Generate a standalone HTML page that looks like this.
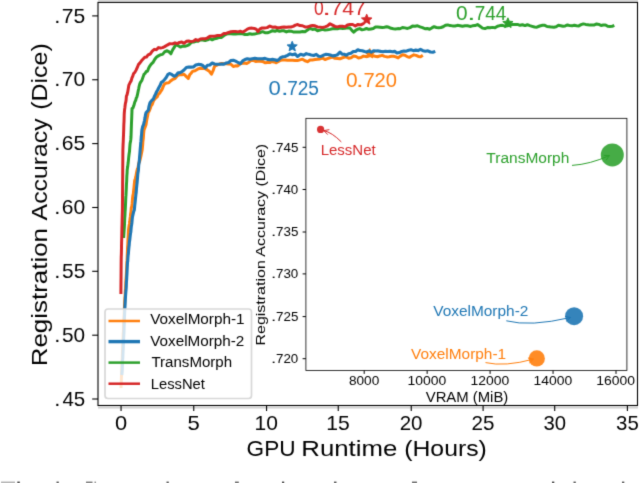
<!DOCTYPE html>
<html><head><meta charset="utf-8"><style>
html,body{margin:0;padding:0;background:#fff;overflow:hidden}
svg{display:block}
#w{width:640px;height:483px}
text{font-family:"Liberation Sans", sans-serif}
text.cap{font-family:"Liberation Serif", serif}
</style></head><body>
<div id="w">
<svg width="640" height="483" viewBox="0 0 640 483">
<defs><filter id="bl" x="0" y="0" width="640" height="483" filterUnits="userSpaceOnUse" color-interpolation-filters="sRGB"><feConvolveMatrix order="3" kernelMatrix="1 6 1 6 36 6 1 6 1" divisor="64" edgeMode="duplicate"/></filter></defs>
<g filter="url(#bl)">
<rect width="640" height="483" fill="#fff"/>
<defs><clipPath id="ax"><rect x="98" y="2" width="539.3" height="403.5"/></clipPath></defs>
<g clip-path="url(#ax)" fill="none" stroke-linejoin="round" stroke-linecap="butt">
<path d="M369.80,48.60 L371.18,51.91 L374.75,52.19 L372.03,54.52 L372.86,58.01 L369.80,56.14 L366.74,58.01 L367.57,54.52 L364.85,52.19 L368.42,51.91 Z" fill="#ff7f0e" stroke="#ff7f0e" stroke-width="1" stroke-linejoin="miter"/>
<path d="M121.00,388.00 L121.10,384.93 L121.20,383.22 L121.30,382.04 L121.40,378.54 L121.50,375.65 L121.60,373.65 L121.70,371.57 L121.80,369.00 L121.89,367.61 L121.98,364.32 L122.08,360.64 L122.17,359.82 L122.26,358.36 L122.35,355.99 L122.45,352.94 L122.54,350.10 L122.63,349.24 L122.72,346.60 L122.82,344.79 L122.91,343.84 L123.00,340.00 L123.10,337.65 L123.20,333.76 L123.30,332.51 L123.40,332.02 L123.50,329.50 L123.60,325.90 L123.70,323.76 L123.80,321.18 L123.90,318.58 L124.00,317.13 L124.10,315.43 L124.20,312.82 L124.30,310.09 L124.40,307.84 L124.50,306.06 L124.60,303.97 L124.70,300.91 L124.80,300.00 L124.93,297.51 L125.07,296.30 L125.20,293.71 L125.33,290.78 L125.47,289.23 L125.60,288.29 L125.73,284.41 L125.87,281.18 L126.00,280.00 L126.11,277.83 L126.23,276.28 L126.34,274.41 L126.45,271.59 L126.57,269.12 L126.68,267.31 L126.80,264.04 L126.91,261.61 L127.02,260.44 L127.14,258.66 L127.25,255.67 L127.36,252.91 L127.48,249.74 L127.59,246.81 L127.70,245.99 L127.82,244.04 L127.93,240.58 L128.05,238.56 L128.16,237.30 L128.27,235.26 L128.39,232.37 L128.50,230.00 L128.81,227.40 L129.12,225.40 L129.44,223.80 L129.75,221.57 L130.06,218.59 L130.38,216.28 L130.69,213.34 L131.00,212.00 L131.27,207.95 L131.54,206.95 L131.81,206.45 L132.09,203.95 L132.36,200.55 L132.63,197.46 L132.90,195.38 L133.17,194.63 L133.44,192.86 L133.71,189.73 L133.99,187.62 L134.26,184.75 L134.53,181.80 L134.80,180.00 L135.33,178.72 L135.86,176.68 L136.39,173.58 L136.91,170.83 L137.44,168.83 L137.97,167.97 L138.50,164.78 L139.03,162.29 L139.56,161.67 L140.09,159.70 L140.61,157.38 L141.14,155.07 L141.67,152.49 L142.20,149.70 L142.42,147.39 L142.65,144.75 L142.88,141.33 L143.10,139.71 L143.32,138.22 L143.55,134.49 L143.78,131.90 L144.00,130.00 L145.00,127.38 L146.00,124.80 L146.42,122.10 L146.84,119.44 L147.26,117.38 L147.68,115.51 L148.10,112.80 L149.12,111.17 L150.15,108.78 L151.17,105.60 L152.20,104.50 L153.44,101.01 L154.68,99.21 L155.92,97.81 L157.16,97.03 L158.40,94.10 L159.66,93.29 L160.92,91.11 L162.18,89.09 L163.44,86.00 L164.70,83.80 L166.77,82.95 L168.83,82.71 L170.90,80.70 L172.95,79.19 L175.00,78.60 L177.25,75.79 L179.50,74.56 L181.75,74.86 L184.00,74.20 L186.15,76.31 L188.30,78.40 L189.70,74.85 L191.10,73.23 L192.50,71.40 L195.04,70.78 L197.58,69.17 L200.12,68.26 L202.66,68.57 L205.20,68.60 L207.30,69.89 L209.40,71.27 L211.50,74.20 L212.38,72.07 L213.25,70.32 L214.12,67.48 L215.00,65.80 L217.25,64.99 L219.50,64.01 L221.75,63.42 L224.00,63.75 L226.25,63.70 L228.60,63.89 L230.95,64.23 L233.30,66.50 L235.54,65.82 L237.78,65.88 L240.02,63.87 L242.26,63.35 L244.50,63.00 L246.71,63.55 L248.93,62.19 L251.14,60.42 L253.36,60.41 L255.57,61.49 L257.79,61.27 L260.00,61.25 L262.50,61.41 L265.00,62.81 L267.50,62.50 L269.69,62.61 L271.88,61.43 L274.06,61.94 L276.25,62.72 L278.44,61.53 L280.62,60.13 L282.81,60.07 L285.00,60.00 L287.50,60.20 L290.00,60.18 L292.50,60.16 L295.00,60.39 L297.50,60.60 L300.00,59.89 L302.50,59.14 L305.00,60.75 L307.50,61.72 L310.00,60.00 L312.50,59.97 L315.00,59.55 L317.50,59.18 L320.00,58.95 L322.50,58.10 L325.00,59.49 L327.50,58.59 L330.00,57.75 L332.50,57.07 L335.00,58.35 L337.50,58.50 L340.00,58.75 L343.12,57.55 L346.25,56.90 L348.70,58.27 L351.15,57.68 L353.60,56.07 L356.05,56.52 L358.50,57.93 L360.95,57.50 L363.40,56.10 L365.75,56.58 L368.10,56.05 L370.45,55.82 L372.80,55.57 L375.15,56.27 L377.50,56.78 L379.85,55.95 L382.20,55.41 L384.55,56.38 L386.90,56.90 L389.14,56.73 L391.39,56.31 L393.63,56.27 L395.88,56.87 L398.12,57.87 L400.36,56.14 L402.61,54.72 L404.85,55.20 L407.09,56.60 L409.34,57.36 L411.58,56.03 L413.82,54.85 L416.07,55.39 L418.31,56.47 L420.56,56.86 L422.80,55.30" stroke="#ff7f0e" stroke-width="3.0"/>
<path d="M121.80,375.00 L121.97,373.17 L122.13,371.32 L122.30,366.90 L122.41,364.63 L122.52,360.72 L122.62,359.92 L122.73,358.89 L122.84,356.30 L122.95,353.21 L123.06,350.81 L123.17,349.10 L123.27,346.78 L123.38,343.66 L123.49,341.09 L123.60,339.60 L123.69,337.05 L123.77,335.39 L123.86,334.32 L123.94,332.54 L124.03,329.47 L124.11,326.29 L124.20,323.55 L124.29,320.56 L124.37,317.89 L124.46,316.49 L124.54,314.83 L124.63,312.46 L124.71,311.33 L124.80,308.60 L124.95,307.07 L125.10,304.11 L125.25,301.24 L125.40,297.89 L125.55,295.74 L125.70,293.63 L125.85,291.65 L126.00,290.00 L126.12,288.63 L126.25,286.61 L126.38,282.73 L126.50,280.81 L126.62,279.64 L126.75,277.01 L126.88,274.88 L127.00,272.61 L127.12,270.05 L127.25,266.94 L127.38,264.97 L127.50,262.00 L127.71,261.57 L127.92,257.79 L128.13,255.17 L128.34,254.00 L128.56,251.22 L128.77,248.65 L128.98,246.48 L129.19,245.01 L129.40,242.00 L129.67,240.56 L129.95,238.14 L130.22,235.62 L130.49,233.47 L130.76,232.26 L131.04,229.21 L131.31,226.34 L131.58,224.96 L131.85,223.01 L132.13,219.95 L132.40,217.30 L133.03,214.31 L133.67,211.57 L134.30,210.00 L134.53,207.74 L134.76,205.13 L134.99,203.22 L135.22,201.10 L135.45,198.80 L135.68,196.57 L135.92,194.35 L136.15,192.80 L136.38,189.63 L136.61,186.96 L136.84,184.94 L137.07,182.76 L137.30,180.00 L137.53,177.51 L137.75,174.49 L137.98,172.57 L138.21,171.65 L138.44,169.56 L138.66,165.63 L138.89,163.70 L139.12,162.64 L139.35,160.50 L139.57,157.19 L139.80,154.70 L139.99,152.33 L140.18,149.84 L140.37,147.42 L140.56,145.58 L140.75,142.52 L140.95,141.42 L141.14,138.95 L141.33,136.03 L141.52,135.21 L141.71,132.43 L141.90,130.00 L142.70,126.37 L143.50,124.80 L144.00,122.57 L144.50,120.58 L145.00,117.87 L145.50,114.72 L146.00,112.80 L148.40,110.00 L149.00,106.32 L149.60,104.05 L150.20,102.40 L151.80,100.40 L153.40,99.00 L154.40,96.24 L155.40,94.47 L156.40,92.10 L157.64,89.98 L158.88,87.47 L160.12,85.39 L161.36,82.41 L162.60,81.70 L164.40,79.78 L166.20,77.54 L168.00,74.30 L169.80,73.50 L172.00,74.66 L174.20,76.30 L176.16,75.19 L178.12,72.69 L180.08,72.58 L182.04,71.53 L184.00,70.00 L186.35,67.52 L188.70,66.96 L191.05,67.12 L193.40,66.95 L195.75,65.06 L198.10,64.40 L200.47,64.52 L202.83,65.53 L205.20,67.90 L207.53,65.28 L209.87,65.04 L212.20,63.00 L214.54,63.96 L216.88,64.22 L219.22,64.25 L221.57,64.17 L223.91,64.08 L226.25,63.00 L228.60,62.41 L230.95,60.56 L233.30,60.20 L235.63,61.15 L237.97,62.49 L240.30,63.70 L242.63,60.94 L244.97,59.54 L247.30,58.75 L249.84,59.36 L252.38,58.75 L254.92,58.20 L257.46,58.71 L260.00,58.75 L262.50,58.70 L265.00,58.36 L267.50,59.34 L270.00,59.69 L272.50,59.40 L274.70,59.69 L276.90,60.50 L278.92,59.55 L280.95,57.43 L282.98,56.69 L285.00,56.50 L287.50,55.36 L290.00,53.84 L292.50,54.80 L295.00,53.92 L297.50,56.50 L300.62,54.32 L303.75,55.20 L306.25,53.63 L308.75,54.37 L311.25,54.99 L313.75,55.49 L316.25,54.40 L318.59,56.29 L320.94,56.46 L323.28,55.28 L325.62,54.39 L327.97,54.57 L330.31,55.00 L332.66,55.86 L335.00,55.60 L337.50,54.71 L340.00,52.20 L342.08,54.20 L344.17,54.20 L346.25,55.30 L348.59,53.72 L350.93,53.25 L353.26,51.48 L355.60,51.40 L357.84,49.69 L360.07,50.57 L362.31,50.83 L364.54,51.54 L366.78,51.90 L369.01,50.83 L371.25,52.20 L373.60,50.75 L375.94,50.93 L378.28,50.91 L380.63,51.38 L382.98,51.77 L385.32,51.29 L387.66,51.55 L390.01,51.28 L392.36,51.71 L394.70,51.40 L397.03,52.97 L399.36,52.55 L401.69,51.47 L404.02,50.98 L406.35,51.18 L408.68,50.22 L411.01,49.83 L413.34,50.65 L415.67,50.12 L418.00,50.60 L420.47,49.34 L422.94,50.63 L425.41,51.26 L427.89,50.84 L430.36,52.01 L432.83,52.30 L435.30,51.40" stroke="#1f77b4" stroke-width="3.1"/>
<path d="M292.20,41.30 L293.60,44.67 L297.24,44.96 L294.47,47.34 L295.32,50.89 L292.20,48.98 L289.08,50.89 L289.93,47.34 L287.16,44.96 L290.80,44.67 Z" fill="#1f77b4" stroke="#1f77b4" stroke-width="1" stroke-linejoin="miter"/>
<path d="M123.60,238.00 L123.77,235.05 L123.95,232.63 L124.12,230.35 L124.30,228.00 L124.41,225.72 L124.52,223.93 L124.63,220.78 L124.75,217.51 L124.86,216.59 L124.97,214.78 L125.08,211.52 L125.19,210.54 L125.30,208.72 L125.42,206.21 L125.53,203.99 L125.64,201.43 L125.75,198.64 L125.86,196.40 L125.97,195.39 L126.08,192.97 L126.20,190.53 L126.31,188.55 L126.42,185.17 L126.53,183.08 L126.64,181.75 L126.75,178.74 L126.87,175.56 L126.98,174.29 L127.09,172.81 L127.20,170.00 L127.45,168.13 L127.71,166.62 L127.96,164.41 L128.21,162.28 L128.47,159.54 L128.72,157.13 L128.97,155.02 L129.23,153.05 L129.48,151.58 L129.73,147.96 L129.99,144.50 L130.24,142.50 L130.49,141.71 L130.75,139.88 L131.00,137.00 L131.08,134.74 L131.17,132.14 L131.25,129.57 L131.33,127.35 L131.42,124.72 L131.50,122.69 L131.58,120.72 L131.67,118.90 L131.75,116.70 L131.83,114.37 L131.92,112.30 L132.00,108.60 L132.93,107.97 L133.85,105.58 L134.77,102.09 L135.70,100.30 L136.29,97.98 L136.87,96.99 L137.46,94.71 L138.04,91.68 L138.63,89.00 L139.21,86.03 L139.80,83.80 L140.84,81.81 L141.88,80.37 L142.92,77.38 L143.96,74.45 L145.00,73.50 L146.24,71.48 L147.48,71.17 L148.72,67.99 L149.96,65.79 L151.20,64.10 L153.00,62.41 L154.80,59.25 L156.60,57.01 L158.40,55.90 L160.47,54.71 L162.55,54.39 L164.62,51.86 L166.70,50.70 L168.80,51.67 L170.90,53.80 L172.07,50.95 L173.25,48.85 L174.43,47.06 L175.60,44.70 L177.97,45.53 L180.33,47.10 L182.70,46.10 L184.90,46.23 L187.10,45.56 L189.30,44.52 L191.50,42.26 L193.70,42.05 L195.90,41.27 L198.10,41.20 L200.45,39.66 L202.80,40.06 L205.15,40.53 L207.50,39.87 L209.85,38.67 L212.20,39.80 L214.54,38.70 L216.88,38.21 L219.22,37.41 L221.57,37.45 L223.91,35.52 L226.25,34.10 L228.59,33.71 L230.93,33.83 L233.28,34.03 L235.62,34.04 L237.96,33.78 L240.30,33.40 L242.65,33.82 L245.00,34.59 L247.35,34.51 L249.70,33.76 L252.05,34.24 L254.40,34.10 L257.20,33.33 L260.00,32.70 L262.50,31.67 L265.00,32.69 L267.50,32.82 L270.00,31.85 L272.50,30.74 L275.00,31.25 L277.27,30.33 L279.55,31.36 L281.82,30.75 L284.09,30.87 L286.36,31.97 L288.64,31.08 L290.91,31.13 L293.18,31.88 L295.45,32.03 L297.73,31.90 L300.00,31.90 L302.50,31.50 L305.00,31.66 L307.50,29.99 L310.00,28.34 L312.50,29.40 L315.00,29.07 L317.50,30.73 L320.00,30.12 L322.50,29.38 L325.00,30.00 L327.50,29.83 L330.00,29.35 L332.50,28.71 L335.00,28.45 L337.50,28.75 L340.00,28.08 L342.50,28.43 L345.00,28.18 L347.50,27.68 L350.00,28.10 L351.88,30.40 L353.75,32.20 L355.62,30.41 L357.50,29.30 L359.75,28.61 L362.00,29.82 L364.25,29.38 L366.50,28.51 L368.75,29.30 L371.00,28.92 L373.25,28.53 L375.50,27.06 L377.75,26.98 L380.00,27.20 L382.22,27.60 L384.44,27.20 L386.67,26.74 L388.89,27.30 L391.11,28.35 L393.33,28.70 L395.56,28.91 L397.78,28.62 L400.00,28.75 L402.50,27.49 L405.00,27.89 L407.50,28.41 L410.00,27.65 L412.50,26.12 L415.00,26.25 L417.50,25.76 L420.00,26.91 L422.50,27.65 L425.00,28.75 L427.27,28.46 L429.55,29.27 L431.82,27.93 L434.09,26.69 L436.36,27.46 L438.64,27.80 L440.91,27.51 L443.18,26.72 L445.45,25.28 L447.73,24.90 L450.00,25.60 L452.50,25.88 L455.00,25.97 L457.50,25.34 L460.00,25.72 L462.50,26.25 L465.00,25.84 L467.50,25.70 L470.00,26.42 L472.50,25.86 L475.00,25.60 L477.50,24.55 L480.00,26.27 L482.50,28.14 L485.00,28.59 L487.50,27.50 L490.00,27.84 L492.50,27.39 L495.00,27.85 L497.50,26.23 L500.00,25.60 L502.50,25.32 L505.00,26.15 L507.50,25.79 L510.00,25.03 L512.50,24.50 L515.00,24.44 L517.50,24.40 L520.00,25.30 L522.50,24.72 L525.00,25.60 L527.38,24.72 L529.76,25.66 L532.14,26.35 L534.52,27.05 L536.90,27.20 L539.70,26.00 L542.50,25.30 L544.78,25.32 L547.06,26.53 L549.33,26.67 L551.61,27.12 L553.89,27.18 L556.17,26.74 L558.44,25.34 L560.72,25.73 L563.00,26.25 L565.26,25.92 L567.52,24.98 L569.78,25.63 L572.04,25.83 L574.30,25.22 L576.56,25.74 L578.82,25.89 L581.08,24.69 L583.34,23.89 L585.60,24.40 L587.81,24.66 L590.02,25.11 L592.22,25.05 L594.43,24.91 L596.64,23.98 L598.85,24.36 L601.05,25.48 L603.26,24.93 L605.47,24.96 L607.68,26.31 L609.88,26.40 L612.09,26.30 L614.30,25.30" stroke="#2ca02c" stroke-width="3.0"/>
<path d="M507.90,17.80 L509.33,21.23 L513.04,21.53 L510.21,23.95 L511.07,27.57 L507.90,25.63 L504.73,27.57 L505.59,23.95 L502.76,21.53 L506.47,21.23 Z" fill="#2ca02c" stroke="#2ca02c" stroke-width="1" stroke-linejoin="miter"/>
<path d="M120.90,294.00 L120.92,291.28 L120.94,288.34 L120.96,286.35 L120.98,284.17 L121.00,281.34 L121.02,279.50 L121.04,278.68 L121.06,277.09 L121.08,274.56 L121.10,271.31 L121.12,268.66 L121.14,266.48 L121.16,263.60 L121.18,261.04 L121.20,260.00 L121.25,256.51 L121.31,255.58 L121.36,254.29 L121.42,251.76 L121.47,249.38 L121.52,246.00 L121.58,242.84 L121.63,241.25 L121.68,239.63 L121.74,237.69 L121.79,235.61 L121.85,231.97 L121.90,229.70 L121.96,226.71 L122.03,225.25 L122.09,222.61 L122.15,219.31 L122.21,216.79 L122.28,214.18 L122.34,212.50 L122.40,210.00 L122.42,209.13 L122.44,206.24 L122.46,203.04 L122.47,201.42 L122.49,199.65 L122.51,197.37 L122.53,195.61 L122.55,192.74 L122.57,189.77 L122.59,187.69 L122.60,185.48 L122.62,182.51 L122.64,180.06 L122.66,178.93 L122.68,176.25 L122.70,172.72 L122.71,171.48 L122.73,169.64 L122.75,167.25 L122.77,165.34 L122.79,162.78 L122.81,161.44 L122.83,158.96 L122.84,155.73 L122.86,153.51 L122.88,151.65 L122.90,149.70 L123.00,147.08 L123.10,144.15 L123.20,142.49 L123.30,139.96 L123.40,137.18 L123.50,135.71 L123.60,132.47 L123.70,130.00 L123.79,126.12 L123.87,123.88 L123.96,122.62 L124.04,120.82 L124.13,117.46 L124.21,114.52 L124.30,112.80 L124.60,109.59 L124.90,107.44 L125.20,104.84 L125.50,102.87 L125.80,101.95 L126.10,100.02 L126.40,96.20 L127.02,94.89 L127.64,92.42 L128.26,88.72 L128.88,85.10 L129.50,83.80 L130.32,82.17 L131.14,80.94 L131.96,77.94 L132.78,76.16 L133.60,73.50 L134.84,72.38 L136.08,70.09 L137.32,67.45 L138.56,64.30 L139.80,63.10 L141.46,60.82 L143.12,59.07 L144.78,57.30 L146.44,57.04 L148.10,54.80 L150.18,54.02 L152.25,51.13 L154.32,49.37 L156.40,49.70 L158.47,47.59 L160.55,48.07 L162.62,47.62 L164.70,46.60 L167.27,45.06 L169.85,43.66 L172.43,43.88 L175.00,42.80 L177.25,43.61 L179.50,42.42 L181.75,41.93 L184.00,43.30 L186.35,41.33 L188.70,41.05 L191.05,41.64 L193.40,41.14 L195.75,39.59 L198.10,40.50 L200.45,39.00 L202.80,38.64 L205.15,38.79 L207.50,37.87 L209.85,36.37 L212.20,36.25 L214.54,36.29 L216.88,35.61 L219.22,35.50 L221.57,35.14 L223.91,33.40 L226.25,33.40 L228.59,32.46 L230.93,31.76 L233.28,31.43 L235.62,31.44 L237.96,31.88 L240.30,31.30 L242.65,32.06 L245.00,30.93 L247.35,29.10 L249.70,28.22 L252.05,28.11 L254.40,28.50 L256.20,29.07 L258.00,31.50 L260.00,28.80 L262.00,28.00 L264.60,27.97 L267.20,27.62 L269.80,26.03 L272.40,27.16 L275.00,27.00 L277.27,27.71 L279.55,27.69 L281.82,27.29 L284.09,27.01 L286.36,27.31 L288.64,26.99 L290.91,27.02 L293.18,26.39 L295.45,25.15 L297.73,24.54 L300.00,25.60 L302.50,25.74 L305.00,26.92 L307.50,27.00 L310.00,26.04 L312.50,25.60 L315.00,25.85 L317.50,26.90 L320.00,27.13 L322.50,27.42 L325.00,26.90 L327.50,25.91 L330.00,23.75 L332.50,25.11 L335.00,26.43 L337.50,26.90 L340.00,26.32 L342.50,26.22 L345.00,26.89 L347.50,24.95 L350.00,24.40 L352.67,24.48 L355.33,25.99 L358.00,24.40 L361.00,24.87 L364.00,23.20" stroke="#d62728" stroke-width="3.0"/>
<path d="M366.70,14.20 L368.15,17.70 L371.93,18.00 L369.05,20.46 L369.93,24.15 L366.70,22.18 L363.47,24.15 L364.35,20.46 L361.47,18.00 L365.25,17.70 Z" fill="#d62728" stroke="#d62728" stroke-width="1" stroke-linejoin="miter"/>
</g>
<defs><clipPath id="topclip"><rect x="0" y="2" width="640" height="481"/></clipPath></defs>
<g clip-path="url(#topclip)">
<text x="314.00" y="15.00" font-size="20.5" fill="#d62728" textLength="9.73" lengthAdjust="spacingAndGlyphs">0</text>
<text x="322.16" y="15.00" font-size="20.5" fill="#d62728" textLength="8.77" lengthAdjust="spacingAndGlyphs">.</text>
<text x="330.54" y="15.00" font-size="20.5" fill="#d62728" textLength="35.40" lengthAdjust="spacingAndGlyphs">747</text>
</g>
<text x="456.07" y="19.75" font-size="20.5" fill="#2ca02c" textLength="11.59" lengthAdjust="spacingAndGlyphs">0</text>
<text x="467.35" y="19.75" font-size="20.5" fill="#2ca02c" textLength="8.19" lengthAdjust="spacingAndGlyphs">.</text>
<text x="474.65" y="19.75" font-size="20.5" fill="#2ca02c" textLength="31.58" lengthAdjust="spacingAndGlyphs">744</text>
<text x="268.52" y="94.60" font-size="20.5" fill="#1f77b4" textLength="12.28" lengthAdjust="spacingAndGlyphs">0</text>
<text x="281.14" y="94.60" font-size="20.5" fill="#1f77b4" textLength="7.60" lengthAdjust="spacingAndGlyphs">.</text>
<text x="287.15" y="94.60" font-size="20.5" fill="#1f77b4" textLength="31.78" lengthAdjust="spacingAndGlyphs">725</text>
<text x="346.07" y="87.10" font-size="20.5" fill="#ff7f0e" textLength="11.59" lengthAdjust="spacingAndGlyphs">0</text>
<text x="356.14" y="87.10" font-size="20.5" fill="#ff7f0e" textLength="7.60" lengthAdjust="spacingAndGlyphs">.</text>
<text x="363.39" y="87.10" font-size="20.5" fill="#ff7f0e" textLength="33.63" lengthAdjust="spacingAndGlyphs">720</text>
<line x1="98" y1="407.6" x2="638" y2="407.6" stroke="#d0d0d0" stroke-width="1.6"/>
<line x1="98" y1="0.8" x2="638" y2="0.8" stroke="#d8d8d8" stroke-width="1.6"/>
<rect x="98" y="2.4" width="539.5" height="403.1" fill="none" stroke="#000" stroke-width="1.1"/>
<line x1="92.2" y1="15.9" x2="98" y2="15.9" stroke="#000" stroke-width="1.1"/>
<text x="54.21" y="22.60" font-size="21" fill="#000" textLength="6.14" lengthAdjust="spacingAndGlyphs">.</text>
<text x="61.85" y="22.60" font-size="21" fill="#000" textLength="23.45" lengthAdjust="spacingAndGlyphs">75</text>
<line x1="92.2" y1="79.75" x2="98" y2="79.75" stroke="#000" stroke-width="1.1"/>
<text x="54.21" y="86.45" font-size="21" fill="#000" textLength="6.14" lengthAdjust="spacingAndGlyphs">.</text>
<text x="61.85" y="86.45" font-size="21" fill="#000" textLength="23.33" lengthAdjust="spacingAndGlyphs">70</text>
<line x1="92.2" y1="143.6" x2="98" y2="143.6" stroke="#000" stroke-width="1.1"/>
<text x="54.21" y="150.30" font-size="21" fill="#000" textLength="6.14" lengthAdjust="spacingAndGlyphs">.</text>
<text x="61.85" y="150.30" font-size="21" fill="#000" textLength="23.45" lengthAdjust="spacingAndGlyphs">65</text>
<line x1="92.2" y1="207.5" x2="98" y2="207.5" stroke="#000" stroke-width="1.1"/>
<text x="54.21" y="214.20" font-size="21" fill="#000" textLength="6.14" lengthAdjust="spacingAndGlyphs">.</text>
<text x="61.85" y="214.20" font-size="21" fill="#000" textLength="23.33" lengthAdjust="spacingAndGlyphs">60</text>
<line x1="92.2" y1="271.3" x2="98" y2="271.3" stroke="#000" stroke-width="1.1"/>
<text x="54.21" y="278.00" font-size="21" fill="#000" textLength="6.14" lengthAdjust="spacingAndGlyphs">.</text>
<text x="62.07" y="278.00" font-size="21" fill="#000" textLength="23.22" lengthAdjust="spacingAndGlyphs">55</text>
<line x1="92.2" y1="335.2" x2="98" y2="335.2" stroke="#000" stroke-width="1.1"/>
<text x="54.21" y="341.90" font-size="21" fill="#000" textLength="6.14" lengthAdjust="spacingAndGlyphs">.</text>
<text x="62.07" y="341.90" font-size="21" fill="#000" textLength="23.11" lengthAdjust="spacingAndGlyphs">50</text>
<line x1="92.2" y1="399.0" x2="98" y2="399.0" stroke="#000" stroke-width="1.1"/>
<text x="54.21" y="405.70" font-size="21" fill="#000" textLength="6.14" lengthAdjust="spacingAndGlyphs">.</text>
<text x="62.49" y="405.70" font-size="21" fill="#000" textLength="22.78" lengthAdjust="spacingAndGlyphs">45</text>
<line x1="121.06" y1="405.5" x2="121.06" y2="411" stroke="#000" stroke-width="1.1"/>
<text x="114.94" y="429.90" font-size="21" fill="#000" textLength="12.17" lengthAdjust="spacingAndGlyphs">0</text>
<line x1="193.75" y1="405.5" x2="193.75" y2="411" stroke="#000" stroke-width="1.1"/>
<text x="187.62" y="429.90" font-size="21" fill="#000" textLength="12.29" lengthAdjust="spacingAndGlyphs">5</text>
<line x1="266.56" y1="405.5" x2="266.56" y2="411" stroke="#000" stroke-width="1.1"/>
<text x="254.49" y="429.90" font-size="21" fill="#000" textLength="23.36" lengthAdjust="spacingAndGlyphs">10</text>
<line x1="338.25" y1="405.5" x2="338.25" y2="411" stroke="#000" stroke-width="1.1"/>
<text x="326.17" y="429.90" font-size="21" fill="#000" textLength="23.48" lengthAdjust="spacingAndGlyphs">15</text>
<line x1="411.25" y1="405.5" x2="411.25" y2="411" stroke="#000" stroke-width="1.1"/>
<text x="399.73" y="429.90" font-size="21" fill="#000" textLength="22.79" lengthAdjust="spacingAndGlyphs">20</text>
<line x1="483.10" y1="405.5" x2="483.10" y2="411" stroke="#000" stroke-width="1.1"/>
<text x="471.57" y="429.90" font-size="21" fill="#000" textLength="22.90" lengthAdjust="spacingAndGlyphs">25</text>
<line x1="554.70" y1="405.5" x2="554.70" y2="411" stroke="#000" stroke-width="1.1"/>
<text x="543.39" y="429.90" font-size="21" fill="#000" textLength="22.57" lengthAdjust="spacingAndGlyphs">30</text>
<line x1="627.40" y1="405.5" x2="627.40" y2="411" stroke="#000" stroke-width="1.1"/>
<text x="616.08" y="429.90" font-size="21" fill="#000" textLength="22.68" lengthAdjust="spacingAndGlyphs">35</text>
<text x="246.57" y="456.00" font-size="22" fill="#000" textLength="48.97" lengthAdjust="spacingAndGlyphs">GPU</text>
<text x="301.34" y="456.00" font-size="22" fill="#000" textLength="95.99" lengthAdjust="spacingAndGlyphs">Runtime</text>
<text x="404.21" y="456.00" font-size="22" fill="#000" textLength="82.67" lengthAdjust="spacingAndGlyphs">(Hours)</text>
<text x="-2.07" y="0" font-size="22" fill="#000" textLength="138.23" lengthAdjust="spacingAndGlyphs" transform="translate(46.70,364.20) rotate(-90)">Registration</text>
<text x="-0.00" y="0" font-size="22" fill="#000" textLength="101.96" lengthAdjust="spacingAndGlyphs" transform="translate(46.70,220.40) rotate(-90)">Accuracy</text>
<text x="-1.50" y="0" font-size="22" fill="#000" textLength="66.64" lengthAdjust="spacingAndGlyphs" transform="translate(46.70,108.30) rotate(-90)">(Dice)</text>
<rect x="105" y="309" width="146.5" height="89.5" rx="3" ry="3" fill="#fff" fill-opacity="0.8" stroke="#d8d8d8" stroke-width="1.7"/>
<line x1="108.5" y1="321.0" x2="140" y2="321.0" stroke="#ff7f0e" stroke-width="2.5"/>
<line x1="108.5" y1="341.6" x2="140" y2="341.6" stroke="#1f77b4" stroke-width="3.4"/>
<line x1="108.5" y1="362.6" x2="140" y2="362.6" stroke="#2ca02c" stroke-width="2.5"/>
<line x1="108.5" y1="383.7" x2="140" y2="383.7" stroke="#d62728" stroke-width="2.5"/>
<text x="150.22" y="324.40" font-size="14" fill="#000" textLength="94.37" lengthAdjust="spacingAndGlyphs">VoxelMorph-1</text>
<text x="150.22" y="345.50" font-size="14" fill="#000" textLength="94.14" lengthAdjust="spacingAndGlyphs">VoxelMorph-2</text>
<text x="151.40" y="367.20" font-size="14" fill="#000" textLength="80.76" lengthAdjust="spacingAndGlyphs">TransMorph</text>
<text x="150.82" y="388.70" font-size="14" fill="#000" textLength="54.11" lengthAdjust="spacingAndGlyphs">LessNet</text>
<rect x="305.9" y="118.35" width="321" height="252.15" fill="#fff" stroke="#111" stroke-width="0.85"/>
<line x1="302.6" y1="147.3" x2="305.9" y2="147.3" stroke="#000" stroke-width="1"/>
<text x="271.09" y="151.60" font-size="12.8" fill="#000" textLength="5.26" lengthAdjust="spacingAndGlyphs">.</text>
<text x="276.03" y="151.60" font-size="12.8" fill="#000" textLength="22.35" lengthAdjust="spacingAndGlyphs">745</text>
<line x1="302.6" y1="189.5" x2="305.9" y2="189.5" stroke="#000" stroke-width="1"/>
<text x="271.09" y="193.80" font-size="12.8" fill="#000" textLength="5.26" lengthAdjust="spacingAndGlyphs">.</text>
<text x="276.03" y="193.80" font-size="12.8" fill="#000" textLength="22.28" lengthAdjust="spacingAndGlyphs">740</text>
<line x1="302.6" y1="232.0" x2="305.9" y2="232.0" stroke="#000" stroke-width="1"/>
<text x="271.09" y="236.30" font-size="12.8" fill="#000" textLength="5.26" lengthAdjust="spacingAndGlyphs">.</text>
<text x="276.03" y="236.30" font-size="12.8" fill="#000" textLength="22.35" lengthAdjust="spacingAndGlyphs">735</text>
<line x1="302.6" y1="273.9" x2="305.9" y2="273.9" stroke="#000" stroke-width="1"/>
<text x="271.09" y="278.20" font-size="12.8" fill="#000" textLength="5.26" lengthAdjust="spacingAndGlyphs">.</text>
<text x="276.03" y="278.20" font-size="12.8" fill="#000" textLength="22.28" lengthAdjust="spacingAndGlyphs">730</text>
<line x1="302.6" y1="316.6" x2="305.9" y2="316.6" stroke="#000" stroke-width="1"/>
<text x="271.09" y="320.90" font-size="12.8" fill="#000" textLength="5.26" lengthAdjust="spacingAndGlyphs">.</text>
<text x="276.03" y="320.90" font-size="12.8" fill="#000" textLength="22.35" lengthAdjust="spacingAndGlyphs">725</text>
<line x1="302.6" y1="358.7" x2="305.9" y2="358.7" stroke="#000" stroke-width="1"/>
<text x="271.09" y="363.00" font-size="12.8" fill="#000" textLength="5.26" lengthAdjust="spacingAndGlyphs">.</text>
<text x="276.03" y="363.00" font-size="12.8" fill="#000" textLength="22.28" lengthAdjust="spacingAndGlyphs">720</text>
<line x1="364.20" y1="370.5" x2="364.20" y2="373.9" stroke="#000" stroke-width="1"/>
<text x="348.96" y="385.40" font-size="12.6" fill="#000" textLength="30.34" lengthAdjust="spacingAndGlyphs">8000</text>
<line x1="427.15" y1="370.5" x2="427.15" y2="373.9" stroke="#000" stroke-width="1"/>
<text x="407.51" y="385.40" font-size="12.6" fill="#000" textLength="38.74" lengthAdjust="spacingAndGlyphs">10000</text>
<line x1="490.10" y1="370.5" x2="490.10" y2="373.9" stroke="#000" stroke-width="1"/>
<text x="470.46" y="385.40" font-size="12.6" fill="#000" textLength="38.74" lengthAdjust="spacingAndGlyphs">12000</text>
<line x1="553.05" y1="370.5" x2="553.05" y2="373.9" stroke="#000" stroke-width="1"/>
<text x="533.41" y="385.40" font-size="12.6" fill="#000" textLength="38.74" lengthAdjust="spacingAndGlyphs">14000</text>
<line x1="616.00" y1="370.5" x2="616.00" y2="373.9" stroke="#000" stroke-width="1"/>
<text x="596.36" y="385.40" font-size="12.6" fill="#000" textLength="38.74" lengthAdjust="spacingAndGlyphs">16000</text>
<text x="425.73" y="401.60" font-size="14" fill="#000" textLength="82.55" lengthAdjust="spacingAndGlyphs">VRAM (MiB)</text>
<text x="-1.28" y="0" font-size="13.5" fill="#000" textLength="201.75" lengthAdjust="spacingAndGlyphs" transform="translate(264.60,344.30) rotate(-90)">Registration Accuracy (Dice)</text>
<circle cx="574.1" cy="316.2" r="9.0" fill="#1f77b4" fill-opacity="0.9"/>
<circle cx="536.8" cy="358.4" r="8.1" fill="#ff7f0e" fill-opacity="0.9"/>
<circle cx="612.3" cy="154.9" r="11.5" fill="#2ca02c" fill-opacity="0.88"/>
<circle cx="320.6" cy="129.4" r="3.6" fill="#d62728" fill-opacity="0.95"/>
<path d="M341.3,141.9 Q332,132.5 323.8,130.6" fill="none" stroke="#d62728" stroke-width="1"/>
<path d="M329.36,129.66 L323.80,130.60 L327.76,134.61" fill="none" stroke="#d62728" stroke-width="1"/>
<path d="M572,165.4 Q590,164.3 609.5,155.5" fill="none" stroke="#2ca02c" stroke-width="1"/>
<path d="M606.21,160.08 L609.50,155.50 L603.86,155.43" fill="none" stroke="#2ca02c" stroke-width="1"/>
<path d="M506.3,320.8 Q530,327 570.5,317.5" fill="none" stroke="#1f77b4" stroke-width="1"/>
<path d="M566.41,321.37 L570.50,317.50 L564.98,316.37" fill="none" stroke="#1f77b4" stroke-width="1"/>
<path d="M485.5,362.6 Q505,367 533.5,359.1" fill="none" stroke="#ff7f0e" stroke-width="1"/>
<path d="M529.40,362.97 L533.50,359.10 L527.98,357.97" fill="none" stroke="#ff7f0e" stroke-width="1"/>
<text x="320.70" y="155.00" font-size="14" fill="#d62728" textLength="55.03" lengthAdjust="spacingAndGlyphs">LessNet</text>
<text x="486.39" y="163.40" font-size="14" fill="#2ca02c" textLength="82.90" lengthAdjust="spacingAndGlyphs">TransMorph</text>
<text x="433.22" y="316.25" font-size="14" fill="#1f77b4" textLength="95.15" lengthAdjust="spacingAndGlyphs">VoxelMorph-2</text>
<text x="411.12" y="358.60" font-size="14" fill="#ff7f0e" textLength="94.97" lengthAdjust="spacingAndGlyphs">VoxelMorph-1</text>
<rect x="1" y="481.5" width="14.00" height="1.5" fill="#b8b8b8"/>
<rect x="17.3" y="481.5" width="2.50" height="1.5" fill="#555"/>
<rect x="56.5" y="481.5" width="2.30" height="1.5" fill="#666"/>
<rect x="86" y="481.5" width="6.50" height="1.5" fill="#888"/>
<rect x="94.5" y="481.5" width="1.50" height="1.5" fill="#999"/>
<rect x="166.5" y="481.5" width="2.30" height="1.5" fill="#666"/>
<rect x="235" y="481.5" width="3.80" height="1.5" fill="#777"/>
<rect x="282" y="481.5" width="2.20" height="1.5" fill="#555"/>
<rect x="334" y="481.5" width="2.50" height="1.5" fill="#666"/>
<rect x="412" y="481.5" width="5.00" height="1.5" fill="#777"/>
<rect x="552" y="481.5" width="2.30" height="1.5" fill="#555"/>
<rect x="573.5" y="481.5" width="2.30" height="1.5" fill="#666"/>
<rect x="622" y="481.5" width="2.30" height="1.5" fill="#666"/>
</g>
</svg>
</div>
</body></html>
